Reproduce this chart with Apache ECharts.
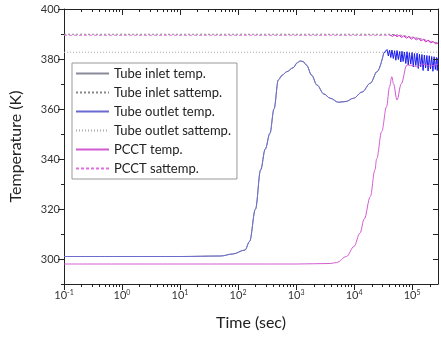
<!DOCTYPE html>
<html>
<head>
<meta charset="utf-8">
<script src="https://cdn.jsdelivr.net/npm/echarts@6/dist/echarts.min.js"></script>
<style>
html, body { margin: 0; padding: 0; background: #fff; }
#chart { width: 441px; height: 338px; }
</style>
</head>
<body>
<div id="chart"></div>
<script>
// tube outlet temperature (blue) - time in sec, temperature in K
var outletTime = [0.1, 1, 10, 50, 81, 132, 158, 200, 245, 295, 355, 417, 495, 575, 690, 890, 1050, 1175, 1320, 1510, 1860, 2290, 3020, 3890, 5370, 7240, 9770, 13800, 19050, 25100, 32400];
var outletTemp = [301, 301, 301, 301.2, 302, 303.6, 307, 320, 335.6, 344, 350.3, 360, 371.6, 373.5, 374.9, 376.5, 378.5, 379.2, 379, 377.6, 373.5, 369.6, 366, 364.3, 362.7, 363, 364.3, 366.8, 370.3, 375, 382.3];
// oscillating part at the end (alternating upper/lower edge of the band)
var bandTime = [32400, 35000, 37000, 39000, 41000, 43000, 45000, 47500, 50000, 52500, 55000, 58000, 61000, 64000, 67000, 70000, 74000, 78000, 82000, 86000, 90000, 95000, 100000, 105000, 110000, 116000, 122000, 128000, 134000, 141000, 148000, 155000, 163000, 171000, 180000, 189000, 198000, 208000, 218000, 229000, 240000, 252000, 264000, 272000, 280000];
var bandTemp = [382.3, 381.8, 383.8, 381.2, 383.5, 380.6, 383.6, 380.2, 383.3, 379.5, 383.4, 379.8, 383.0, 378.8, 383.1, 379.0, 382.8, 378.2, 382.9, 377.6, 382.5, 378.0, 382.6, 376.8, 382.2, 377.4, 382.3, 376.2, 381.9, 376.9, 381.8, 375.4, 381.6, 376.4, 381.4, 375.2, 381.3, 376.0, 381.0, 375.1, 380.9, 375.8, 380.6, 375.4, 380.5];

// PCCT temperature (pink)
var pcctTime = [0.1, 10, 1000, 2000, 3890, 5000, 7400, 10000, 12600, 15000, 19050, 22900, 24500, 30000, 36300, 41000, 44700, 48000, 55000, 65000, 81300, 100000, 120000, 150000, 200000, 280000];
var pcctTemp = [298, 298, 298, 298.1, 298.2, 298.6, 301, 305, 310.3, 316, 324.9, 335.6, 340, 351, 360.9, 369, 372.9, 370, 363.6, 370, 377.6, 377.5, 376.9, 378, 377.2, 378];

// saturation temperatures
var satTime = [0.1, 40000, 60000, 100000, 150000, 200000, 280000];
var inletSat = [389.9, 389.9, 389.6, 388.8, 388, 387.3, 386.4];
var pcctSat = [389.5, 389.5, 389.3, 388.6, 387.8, 387.1, 386.2];
var outletSatTime = [0.1, 280000];
var outletSat = [382.7, 382.7];
// scattered pink marks along the PCCT sattemp line at the end
var pcctSatNoiseTime = [42000, 46000, 50000, 55000, 60000, 66000, 72000, 80000, 88000, 97000, 107000, 118000, 130000, 143000, 157000, 172000, 190000, 210000, 232000, 255000, 280000];
var pcctSatNoise = [389.6, 389.0, 389.7, 388.9, 389.5, 388.6, 389.3, 388.3, 389.0, 387.9, 388.7, 387.6, 388.3, 387.2, 387.9, 386.8, 387.5, 386.4, 387.0, 386.0, 386.4];

// tick values
var xMajor = [0.1, 1, 10, 100, 1000, 10000, 100000];
var yMajor = [300, 320, 340, 360, 380, 400];
var yAll = [290, 300, 310, 320, 330, 340, 350, 360, 370, 380, 390, 400];

var legendNames = ['Tube inlet temp.', 'Tube inlet sattemp.', 'Tube outlet temp.', 'Tube outlet sattemp.', 'PCCT temp.', 'PCCT sattemp.'];

var X_MIN = 0.1, X_MAX = 280000, Y_MIN = 290, Y_MAX = 400;

function pairs(xs, ys) {
	var out = [];
	for (var i = 0; i < xs.length; i++) {
		out.push([xs[i], ys[i]]);
	}
	return out;
}

// x tick items: [value, isMinor]; minor ones at 2..9 of every decade
var xTickData = [];
for (var d = 0; d < xMajor.length; d++) {
	xTickData.push([xMajor[d], 0]);
	for (var m = 2; m < 10; m++) {
		var v = xMajor[d] * m;
		if (v <= X_MAX) xTickData.push([v, 1]);
	}
}
// y tick items: [x (unused), value, isMinor]
var yTickData = [];
for (var k = 0; k < yAll.length; k++) {
	yTickData.push([X_MIN, yAll[k], yMajor.indexOf(yAll[k]) < 0 ? 1 : 0]);
}

var font = 'Lato';
var axisColor = '#222';

function tickLine(x1, y1, x2, y2) {
	return {
		type: 'line',
		shape: { x1: x1, y1: y1, x2: x2, y2: y2 },
		style: { stroke: axisColor, lineWidth: 1 }
	};
}

// top (inside) ticks and bottom minor ticks for the log axis
function renderXTicks(params, api) {
	var x = api.value(0);
	var minor = api.value(1);
	var top = api.coord([x, Y_MAX]);
	var bot = api.coord([x, Y_MIN]);
	var px = Math.round(top[0]) + 0.5;
	var len = minor ? 3 : 6;
	var kids = [tickLine(px, top[1], px, top[1] + len)];
	if (minor) kids.push(tickLine(px, bot[1], px, bot[1] + 3));
	return { type: 'group', children: kids };
}

// right (inside) ticks and left minor ticks for the value axis
function renderYTicks(params, api) {
	var y = api.value(1);
	var minor = api.value(2);
	var l = api.coord([X_MIN, y]);
	var r = api.coord([X_MAX, y]);
	var py = Math.round(l[1]) + 0.5;
	var kids = [tickLine(r[0], py, r[0] - 5, py)];
	if (minor) kids.push(tickLine(l[0], py, l[0] - 3, py));
	return { type: 'group', children: kids };
}

function line(name, data, color, width, dash, z, smooth) {
	return {
		name: name,
		type: 'line',
		data: data,
		symbol: 'none',
		smooth: smooth || false,
		smoothMonotone: 'x',
		lineStyle: { color: color, width: width, type: dash || 'solid' },
		itemStyle: { color: color },
		z: z
	};
}

var outletData = pairs(outletTime, outletTemp);

var chart = echarts.init(document.getElementById('chart'));
var option = {
	animation: false,
	grid: { left: 64, right: 3, top: 9, bottom: 54 },
	legend: {
		orient: 'vertical',
		left: 72,
		top: 63,
		data: legendNames,
		itemWidth: 33,
		itemHeight: 10,
		itemGap: 6,
		padding: [4, 6, 4, 3],
		borderColor: '#999',
		borderWidth: 1,
		backgroundColor: '#fff',
		itemStyle: { opacity: 0, borderWidth: 0 },
		textStyle: { fontSize: 13, color: '#222', fontFamily: font }
	},
	xAxis: [{
		type: 'log',
		min: X_MIN,
		max: X_MAX,
		position: 'bottom',
		name: 'Time (sec)',
		nameLocation: 'middle',
		nameGap: 31,
		nameTextStyle: { fontSize: 16, color: '#222', fontFamily: font },
		axisLine: { show: true, lineStyle: { color: axisColor } },
		axisTick: { show: true, length: 6, customValues: xMajor },
		axisLabel: {
			margin: 5,
			color: '#333',
			fontSize: 11,
			fontFamily: font,
			customValues: xMajor,
			formatter: function (v) {
				return '10{s|' + Math.round(Math.log10(v)) + '}';
			},
			rich: { s: { fontSize: 7, fontFamily: font, verticalAlign: 'top', padding: [0, 0, 6, 0] } }
		},
		splitLine: { show: false }
	}, {
		type: 'log',
		min: X_MIN,
		max: X_MAX,
		position: 'top',
		axisLine: { show: true, lineStyle: { color: axisColor } },
		axisTick: { show: false },
		axisLabel: { show: false },
		splitLine: { show: false }
	}],
	yAxis: [{
		type: 'value',
		min: Y_MIN,
		max: Y_MAX,
		interval: 10,
		name: 'Temperature (K)',
		nameLocation: 'middle',
		nameGap: 40,
		nameTextStyle: { fontSize: 16, color: '#222', fontFamily: font },
		axisLine: { show: true, lineStyle: { color: axisColor } },
		axisTick: { show: true, length: 6, customValues: yMajor },
		axisLabel: { margin: 4, color: '#333', fontSize: 11, fontFamily: font, customValues: yMajor },
		splitLine: { show: false }
	}, {
		type: 'value',
		min: Y_MIN,
		max: Y_MAX,
		interval: 10,
		position: 'right',
		axisLine: { show: true, lineStyle: { color: axisColor } },
		axisTick: { show: false },
		axisLabel: { show: false },
		splitLine: { show: false }
	}],
	series: [
		line('Tube inlet temp.', outletData, '#8a8a9a', 1, null, 1, 0.35),
		line('Tube inlet sattemp.', pairs(satTime, inletSat), '#888', 1, [2, 2], 2),
		line('Tube outlet temp.', outletData, '#6a6ad0', 1, null, 3, 0.35),
		line('Tube outlet temp.', pairs(bandTime, bandTemp), '#1a1af0', 1, null, 3),
		line('Tube outlet sattemp.', pairs(outletSatTime, outletSat), '#aaa', 1, [1, 2], 2),
		line('PCCT temp.', pairs(pcctTime, pcctTemp), '#d25ad2', 1, null, 4, 0.35),
		line('PCCT sattemp.', pairs(satTime, pcctSat), '#e070e0', 1, [3, 2], 3),
		line('PCCT sattemp.', pairs(pcctSatNoiseTime, pcctSatNoise), '#d030d0', 1, null, 3),
		{
			type: 'custom',
			data: xTickData,
			encode: { x: 0 },
			renderItem: renderXTicks,
			silent: true,
			clip: false,
			z: 10
		},
		{
			type: 'custom',
			data: yTickData,
			encode: { x: 0, y: 1 },
			renderItem: renderYTicks,
			silent: true,
			clip: false,
			z: 10
		}
	]
};
chart.setOption(option);
</script>
</body>
</html>
